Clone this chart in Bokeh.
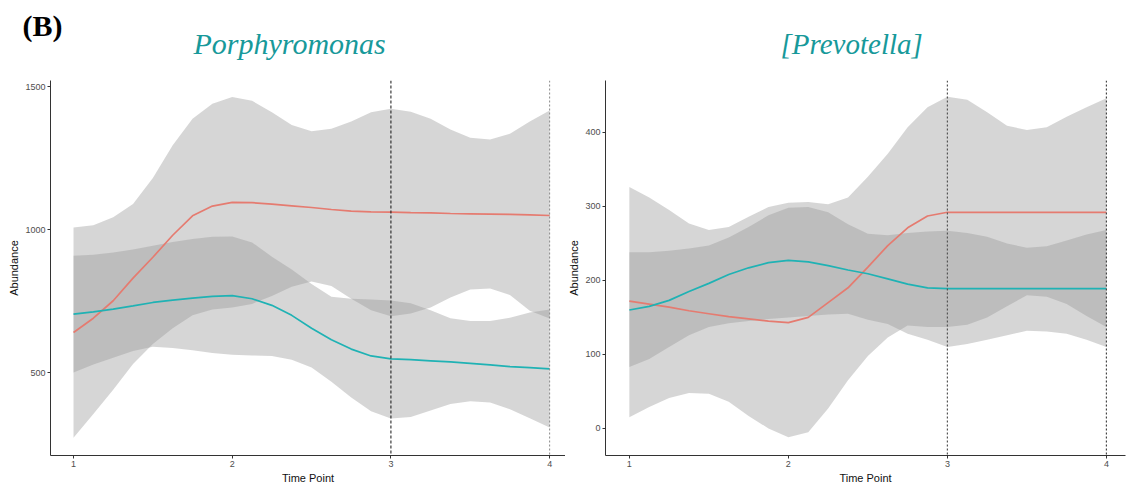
from bokeh.plotting import figure
from bokeh.models import Title, Span, FixedTicker, Range1d
from bokeh.layouts import row
from bokeh.embed import file_html
from bokeh.resources import INLINE

# ---------------- data ----------------
time_points = [1.0, 1.125, 1.25, 1.375, 1.5, 1.625, 1.75, 1.875, 2.0, 2.125, 2.25, 2.375,
               2.5, 2.625, 2.75, 2.875, 3.0, 3.125, 3.25, 3.375, 3.5, 3.625, 3.75, 3.875, 4.0]
x_tick_labels = [1, 2, 3, 4]
marked_time_points = [3, 4]

# Porphyromonas
porph_red_mean = [640, 690, 751, 830, 903, 980, 1048, 1082, 1095, 1094, 1089, 1083, 1077,
                  1070, 1064, 1062, 1061, 1059, 1058, 1056, 1055, 1054, 1053, 1051, 1049]
porph_red_upper = [1007, 1015, 1043, 1089, 1180, 1295, 1387, 1440, 1463, 1450, 1410, 1365, 1344,
                   1352, 1378, 1410, 1422, 1412, 1387, 1350, 1321, 1315, 1335, 1378, 1416]
porph_red_lower = [272, 355, 440, 530, 600, 655, 700, 720, 727, 740, 768, 800, 818,
                   803, 758, 718, 697, 706, 727, 762, 790, 794, 771, 716, 689]
porph_blue_mean = [704, 712, 722, 733, 745, 753, 760, 766, 769, 758, 735, 700, 655,
                   615, 582, 558, 548, 545, 541, 537, 532, 527, 521, 517, 513]
porph_blue_upper = [908, 912, 920, 930, 943, 956, 967, 975, 976, 955, 905, 860, 810,
                    765, 758, 755, 752, 742, 718, 690, 680, 680, 692, 710, 720]
porph_blue_lower = [500, 528, 552, 575, 590, 586, 578, 568, 562, 560, 558, 545, 518,
                    468, 413, 365, 339, 345, 367, 390, 400, 395, 372, 340, 308]
porph_y_ticks = [500, 1000, 1500]

# [Prevotella]
prev_red_mean = [172, 168, 164, 159, 155, 151, 148, 145, 143, 150, 170, 190, 218,
                 247, 271, 287, 292, 292, 292, 292, 292, 292, 292, 292, 292]
prev_red_upper = [326, 312, 295, 277, 268, 272, 286, 299, 305, 306, 303, 312, 340,
                  371, 407, 434, 448, 444, 427, 409, 403, 407, 421, 434, 446]
prev_red_lower = [15, 29, 41, 48, 47, 36, 17, 0, -12, -5, 27, 65, 98,
                  123, 139, 137, 137, 140, 150, 165, 180, 178, 168, 152, 137]
prev_blue_mean = [160, 165, 173, 185, 196, 208, 217, 224, 227, 225, 220, 214, 209,
                  202, 195, 190, 189, 189, 189, 189, 189, 189, 189, 189, 189]
prev_blue_upper = [238, 238, 240, 243, 247, 258, 272, 288, 298, 299, 292, 276, 263,
                   261, 264, 266, 267, 264, 259, 250, 244, 246, 254, 262, 268]
prev_blue_lower = [83, 94, 110, 126, 137, 142, 145, 148, 150, 152, 154, 155, 147,
                   141, 128, 120, 110, 114, 120, 126, 132, 131, 128, 120, 110]
prev_y_ticks = [0, 100, 200, 300, 400]

# ---------------- styling ----------------
RED = "#e57b70"
TEAL = "#1fb2b4"
RIBBON = "#999999"
TITLE_COLOR = "#17999a"
SANS = "Liberation Sans"
SERIF = "Liberation Serif"


def style_genus_title(t, text, size, offset):
    t.text = text
    t.text_font = SERIF
    t.text_font_style = "italic"
    t.text_font_size = size
    t.text_color = TITLE_COLOR
    t.align = "left"
    t.offset = offset
    t.standoff = 41


def make_panel(width, min_left, min_right, x_range, y_range, y_ticks,
               red_mean, red_lo, red_hi, blue_mean, blue_lo, blue_hi, span_styles):
    p = figure(width=width, height=486, output_backend="svg", toolbar_location=None,
               x_range=Range1d(*x_range), y_range=Range1d(*y_range),
               min_border_left=min_left, min_border_right=min_right,
               min_border_top=80, min_border_bottom=31)
    p.outline_line_color = None
    p.grid.visible = False
    p.background_fill_color = "white"

    p.varea(x=time_points, y1=red_lo, y2=red_hi, fill_color=RIBBON, fill_alpha=0.4)
    p.varea(x=time_points, y1=blue_lo, y2=blue_hi, fill_color=RIBBON, fill_alpha=0.4)
    p.line(time_points, red_mean, line_color=RED, line_width=1.7)
    p.line(time_points, blue_mean, line_color=TEAL, line_width=1.7)

    for loc, (col, dash, w) in zip(marked_time_points, span_styles):
        p.add_layout(Span(location=loc, dimension="height", line_color=col,
                          line_dash=dash, line_width=w))

    for ax in (p.xaxis[0], p.yaxis[0]):
        ax.axis_line_color = "#333333"
        ax.axis_line_width = 1
        ax.major_tick_line_color = "#333333"
        ax.major_tick_out = 3
        ax.major_tick_in = 0
        ax.minor_tick_line_color = None
        ax.major_label_text_font = SANS
        ax.major_label_text_font_size = "9px"
        ax.major_label_text_color = "#4d4d4d"
        ax.major_label_standoff = 2
        ax.axis_label_text_font = SANS
        ax.axis_label_text_font_size = "11px"
        ax.axis_label_text_font_style = "normal"
        ax.axis_label_text_color = "#111111"
        ax.axis_label_standoff = 2

    p.xaxis.ticker = FixedTicker(ticks=x_tick_labels)
    p.yaxis.ticker = FixedTicker(ticks=y_ticks)
    p.xaxis.axis_label = "Time Point"
    p.yaxis.axis_label = "Abundance"
    return p


p1 = make_panel(565, 50, 0, (0.855, 4.1), (210, 1521), porph_y_ticks,
                porph_red_mean, porph_red_lower, porph_red_upper,
                porph_blue_mean, porph_blue_lower, porph_blue_upper,
                [("#111111", "3 2", 1), ("#888888", "2 2", 1)])
# outer title: panel label "(B)"; inner (added) title: genus name
p1.title.text = "(B)"
p1.title.text_font = SERIF
p1.title.text_font_style = "bold"
p1.title.text_font_size = "30px"
p1.title.text_color = "black"
p1.title.align = "left"
p1.title.offset = -28
p1.title.standoff = -74
t1 = Title()
style_genus_title(t1, "Porphyromonas", "30px", 143)
p1.add_layout(t1, "above")

p2 = make_panel(562, 38, 2, (0.85, 4.12), (-36.5, 470), prev_y_ticks,
                prev_red_mean, prev_red_lower, prev_red_upper,
                prev_blue_mean, prev_blue_lower, prev_blue_upper,
                [("#555555", "2 2", 1.2), ("#444444", "2 2", 1.2)])
style_genus_title(p2.title, "[Prevotella]", "29px", 175)

layout = row(p1, p2)
open("out.html", "w").write(file_html(layout, INLINE))
